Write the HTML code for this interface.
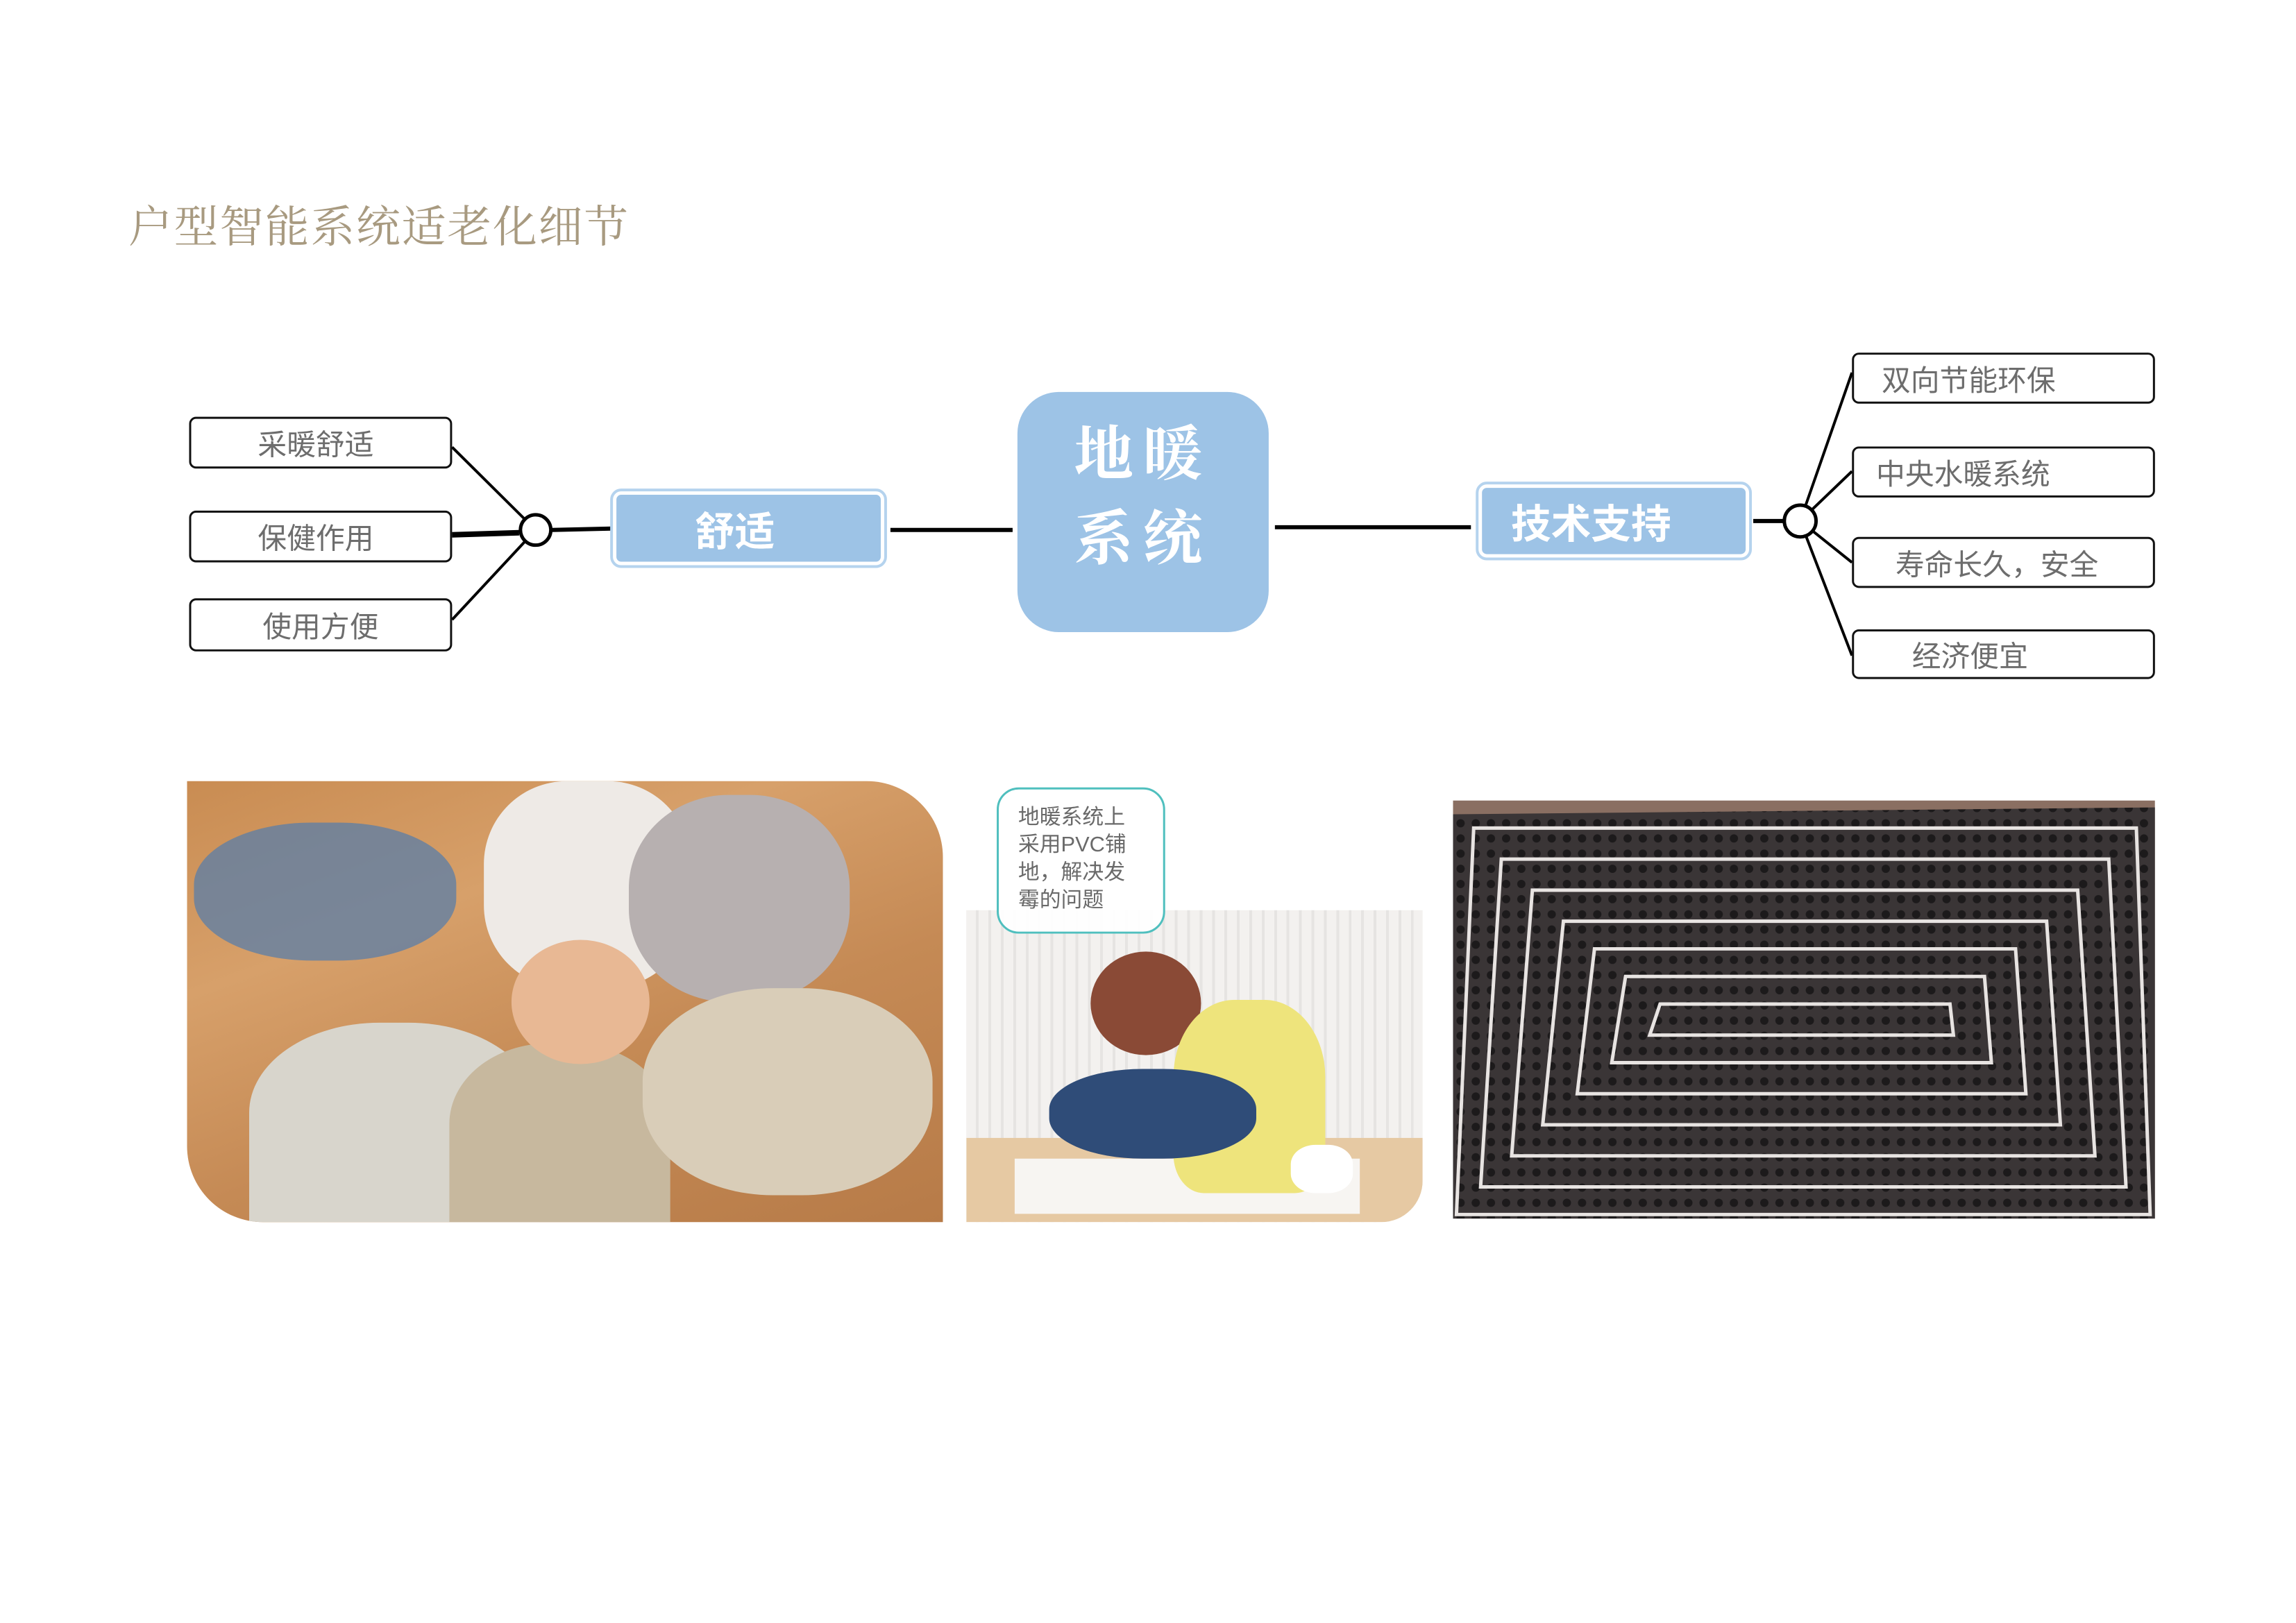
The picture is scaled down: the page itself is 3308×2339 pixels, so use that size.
<!DOCTYPE html>
<html><head><meta charset="utf-8"><style>
body{margin:0;width:3308px;height:2339px;background:#fff;position:relative;overflow:hidden;font-family:"Liberation Sans","Noto Sans CJK SC",sans-serif}
#w{position:absolute;left:0;top:0;width:3308px;height:2339px;transform:scale(0.9945);transform-origin:0 0}
.a{position:absolute;box-sizing:border-box}
.lb{border:3px solid #111;border-radius:10px;background:#fff;color:#6d6d6d;font-size:42px;display:flex;align-items:center;justify-content:center}
.bb{background:#9dc3e6;border:5px solid #fff;outline:4px solid #b5d3ee;border-radius:12px;color:#fff;font-weight:bold;display:flex;align-items:center}
</style></head><body><div id="w">
<div class="a" style="left:186px;top:278px;font-family:'Noto Serif CJK SC',serif;font-size:64px;color:#a89a80;letter-spacing:2px">户型智能系统适老化细节</div>

<svg class="a" style="left:0;top:0" width="3308" height="2339">
<g stroke="#000" fill="none">
<line x1="655" y1="648" x2="776" y2="768" stroke-width="4"/>
<line x1="655" y1="775" x2="752" y2="772" stroke-width="8"/>
<line x1="655" y1="898" x2="776" y2="768" stroke-width="4"/>
<line x1="800" y1="768" x2="886" y2="766" stroke-width="6"/>
<line x1="1290" y1="768" x2="1467" y2="768" stroke-width="6"/>
<line x1="1847" y1="764" x2="2131" y2="764" stroke-width="6"/>
<line x1="2540" y1="755" x2="2584" y2="755" stroke-width="6"/>
<line x1="2608" y1="755" x2="2683" y2="540" stroke-width="4"/>
<line x1="2608" y1="755" x2="2683" y2="683" stroke-width="4"/>
<line x1="2608" y1="755" x2="2683" y2="815" stroke-width="4"/>
<line x1="2608" y1="755" x2="2683" y2="950" stroke-width="4"/>
<circle cx="776" cy="768" r="22" fill="#fff" stroke-width="5"/>
<circle cx="2608" cy="755" r="23" fill="#fff" stroke-width="5"/>
</g></svg>

<div class="a lb" style="left:274px;top:604px;width:381px;height:75px;padding-right:14px">采暖舒适</div>
<div class="a lb" style="left:274px;top:740px;width:381px;height:75px;padding-right:14px">保健作用</div>
<div class="a lb" style="left:274px;top:867px;width:381px;height:77px">使用方便</div>

<div class="a bb" style="left:888px;top:712px;width:393px;height:107px;font-size:58px;justify-content:center;padding-right:40px">舒适</div>
<div class="a" style="left:1474px;top:568px;width:364px;height:348px;background:#9dc3e6;border-radius:60px;color:#fff;font-family:'Noto Serif CJK SC',serif;font-weight:bold;font-size:86px;line-height:122px;text-align:center;padding-top:22px;letter-spacing:14px">地暖<br>系统</div>
<div class="a bb" style="left:2142px;top:702px;width:392px;height:106px;font-size:58px;padding-left:42px">技术支持</div>

<div class="a lb" style="left:2683px;top:511px;width:439px;height:74px;justify-content:flex-start;padding-left:40px">双向节能环保</div>
<div class="a lb" style="left:2683px;top:647px;width:439px;height:74px;justify-content:flex-start;padding-left:32px">中央水暖系统</div>
<div class="a lb" style="left:2683px;top:778px;width:439px;height:74px;justify-content:flex-start;padding-left:60px">寿命长久，安全</div>
<div class="a lb" style="left:2683px;top:912px;width:439px;height:72px;justify-content:flex-start;padding-left:84px">经济便宜</div>

<!-- photo 1 -->
<div class="a" style="left:271px;top:1132px;width:1095px;height:639px;border-radius:0 110px 0 110px;overflow:hidden;background:linear-gradient(160deg,#c98c52 0%,#d7a06a 30%,#c58a55 60%,#b77b48 100%)">
<div class="a" style="left:430px;top:0;width:300px;height:300px;background:#eeeae6;border-radius:40%"></div>
<div class="a" style="left:640px;top:20px;width:320px;height:300px;background:#b7b0b0;border-radius:45%"></div>
<div class="a" style="left:10px;top:60px;width:380px;height:200px;background:#5a7ea8;border-radius:45%;opacity:.75"></div>
<div class="a" style="left:90px;top:350px;width:420px;height:289px;background:#d8d5cc;border-radius:45% 45% 0 0"></div>
<div class="a" style="left:380px;top:380px;width:320px;height:259px;background:#c7b89e;border-radius:45% 45% 0 0"></div>
<div class="a" style="left:660px;top:300px;width:420px;height:300px;background:#d9cdb8;border-radius:45%"></div>
<div class="a" style="left:470px;top:230px;width:200px;height:180px;background:#e8b894;border-radius:50%"></div>
</div>
<!-- photo 2 -->
<div class="a" style="left:1400px;top:1319px;width:661px;height:452px;border-radius:0 0 60px 0;overflow:hidden;background:repeating-linear-gradient(90deg,#f3f1ef 0 14px,#e6e4e2 14px 18px)">
<div class="a" style="left:0;top:330px;width:661px;height:122px;background:#e6c9a3"></div>
<div class="a" style="left:70px;top:360px;width:500px;height:80px;background:#f7f5f2"></div>
<div class="a" style="left:180px;top:60px;width:160px;height:150px;background:#8a4a36;border-radius:50%"></div>
<div class="a" style="left:300px;top:130px;width:220px;height:280px;background:#eee47c;border-radius:40% 40% 20% 20%"></div>
<div class="a" style="left:120px;top:230px;width:300px;height:130px;background:#2f4c78;border-radius:45%"></div>
<div class="a" style="left:470px;top:340px;width:90px;height:70px;background:#fff;border-radius:40%"></div>
</div>
<div class="a" style="left:1444px;top:1141px;width:244px;height:212px;border:3px solid #4fbfbe;border-radius:32px;background:rgba(255,255,255,.92);color:#6a6a6a;font-size:31px;line-height:40px;padding:20px 0 0 28px">地暖系统上<br>采用PVC铺<br>地，解决发<br>霉的问题</div>
<!-- photo 3 -->
<svg class="a" style="left:2105px;top:1160px" width="1017" height="606" viewBox="0 0 1017 606">
<defs><pattern id="p" width="22" height="22" patternUnits="userSpaceOnUse"><rect width="22" height="22" fill="#3a3536"/><circle cx="11" cy="11" r="6" fill="#1c1a1b"/></pattern></defs>
<rect width="1017" height="606" fill="#8a6f62"/>
<polygon points="0,20 1017,10 1017,606 0,606" fill="url(#p)"/>
<g fill="none" stroke="#e8e4e2" stroke-width="5">
<polygon points="30,40 990,40 1010,600 5,600"/>
<polygon points="70,85 950,85 975,560 40,560"/>
<polygon points="115,130 905,130 930,515 85,515"/>
<polygon points="160,175 860,175 880,470 130,470"/>
<polygon points="205,215 815,215 830,425 180,425"/>
<polygon points="250,255 770,255 780,380 230,380"/>
<polygon points="300,295 720,295 725,340 285,340"/>
</g></svg>
</div></body></html>
